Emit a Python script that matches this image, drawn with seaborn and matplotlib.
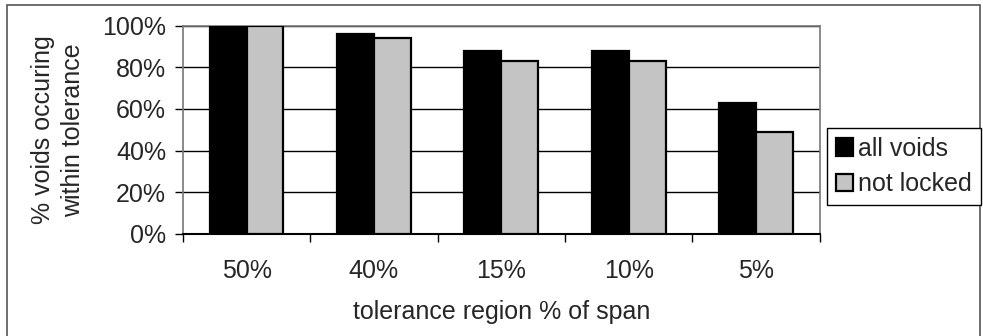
import matplotlib
matplotlib.use("Agg")
import matplotlib.pyplot as plt
import matplotlib.patches as mpatches
from matplotlib.ticker import FixedLocator, PercentFormatter
import pandas as pd
import seaborn as sns

# Share of voids inside each tolerance band
categories = ["50%", "40%", "15%", "10%", "5%"]
all_voids = [100, 96, 88, 88, 63]
not_locked = [100, 94, 83, 83, 49]
series_names = ["all voids", "not locked"]
y_ticks = [0, 20, 40, 60, 80, 100]

df = pd.DataFrame({
    "tolerance": categories * 2,
    "pct": all_voids + not_locked,
    "series": [series_names[0]] * len(categories) + [series_names[1]] * len(categories),
})

sns.set_theme(style="white")
plt.rcParams["font.family"] = ["Liberation Sans", "DejaVu Sans"]
FS = 18

fig = plt.figure(figsize=(9.83, 3.36), dpi=100)
ax = fig.add_axes([0.186, 0.304, 0.648, 0.620])

palette = {"all voids": "#000000", "not locked": "#c4c4c4"}
sns.barplot(data=df, x="tolerance", y="pct", hue="series", order=categories,
            hue_order=series_names, palette=palette, width=0.58,
            edgecolor="black", linewidth=1.6, saturation=1, ax=ax, zorder=3)

ax.set_ylim(0, 100)
ax.set_xlim(-0.5, len(categories) - 0.5)
ax.set_yticks(y_ticks)
ax.yaxis.set_major_formatter(PercentFormatter(decimals=0))
ax.grid(axis="y", color="black", linewidth=1.0, zorder=0)
ax.set_axisbelow(True)

# category separators along the x axis
ax.xaxis.set_minor_locator(FixedLocator([i - 0.5 for i in range(len(categories) + 1)]))
ax.tick_params(axis="x", which="major", length=0, pad=18, labelsize=FS)
ax.tick_params(axis="x", which="minor", length=6, width=1, color="black", direction="out", bottom=True)
ax.tick_params(axis="y", which="major", length=6, width=1, color="black", direction="out",
               left=True, pad=6, labelsize=FS)

for side in ["top", "right", "left"]:
    ax.spines[side].set_color("#777777")
    ax.spines[side].set_linewidth(1.2)
ax.spines["bottom"].set_color("black")
ax.spines["bottom"].set_linewidth(1.5)

ax.set_xlabel("tolerance region % of span", fontsize=FS, labelpad=12)
ax.set_ylabel("% voids occuring\nwithin tolerance", fontsize=FS, labelpad=12, linespacing=1.35)

ax.get_legend().remove()
handles = [mpatches.Patch(facecolor=palette[n], edgecolor="black", linewidth=1.6) for n in series_names]
leg = fig.legend(handles, series_names, loc="center left",
                 bbox_to_anchor=(827 / 983, 1 - 166.5 / 336), fontsize=FS,
                 frameon=True, fancybox=False, edgecolor="black", framealpha=1,
                 handlelength=0.7, handleheight=0.7, handletextpad=0.2,
                 borderpad=0.35, labelspacing=0.45, borderaxespad=0)
leg.get_frame().set_linewidth(1.0)

# outer chart border
fig.add_artist(mpatches.Rectangle((7 / 983, -0.05), 973 / 983, 1 - 5 / 336 + 0.05,
                                  transform=fig.transFigure, fill=False,
                                  edgecolor="#555555", linewidth=1.2))

fig.savefig("out.png", dpi=100)
